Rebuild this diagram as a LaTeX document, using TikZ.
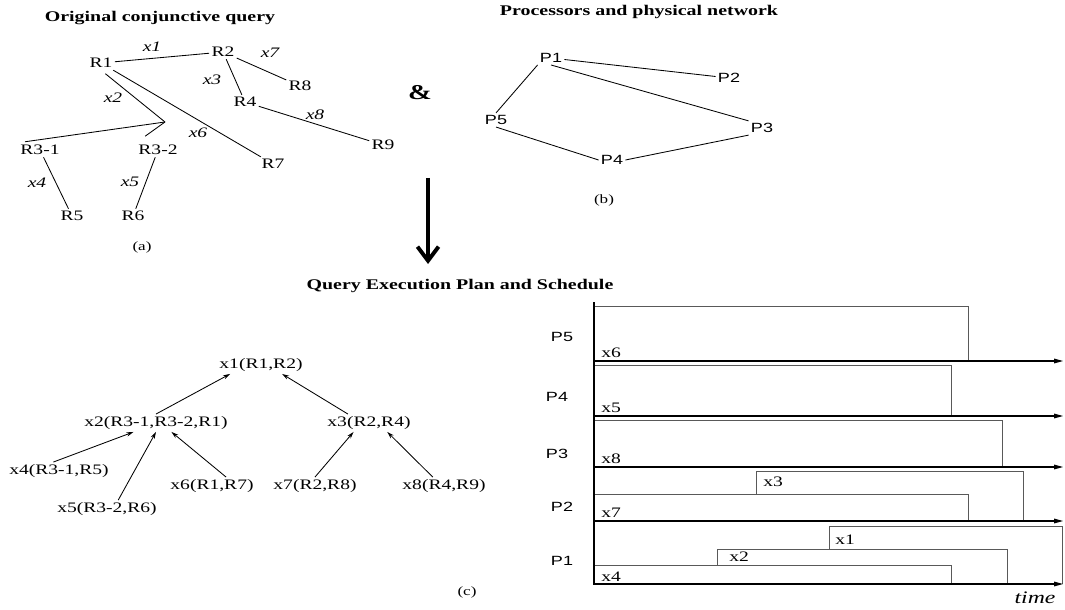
\documentclass[tikz,border=0pt]{standalone}
\usepackage{fontspec}
\setmainfont[FakeStretch=1.35]{Liberation Serif}
\setsansfont[FakeStretch=1.35]{Liberation Sans}
\usetikzlibrary{arrows.meta, positioning}

\begin{document}
\begin{tikzpicture}[x=0.025cm, y=-0.025cm]
    \tikzstyle{heading} = [font=\fontsize{10.5}{12}\selectfont\bfseries, inner sep=0pt]
    \tikzstyle{rel} = [font=\fontsize{10.3}{12}\selectfont, inner sep=1.5pt]
    \tikzstyle{var} = [font=\fontsize{10.3}{12}\selectfont\itshape, inner sep=0pt]
    \tikzstyle{proc} = [font=\fontsize{9.5}{11}\selectfont\sffamily, inner sep=1.5pt]
    \tikzstyle{plan} = [font=\fontsize{10.3}{12}\selectfont, inner sep=1.5pt]
    \tikzstyle{job} = [font=\fontsize{10.3}{12}\selectfont, inner sep=0pt, anchor=west]
    \tikzstyle{sub} = [font=\fontsize{9}{10}\selectfont, inner sep=0pt]
    \tikzstyle{link} = [line width=0.6pt]
    \tikzstyle{arrow} = [line width=0.6pt, -{Stealth[length=5pt,width=3pt]}]
    \tikzstyle{slot} = [line width=0.6pt, draw=black!65]
    \tikzstyle{timeline} = [line width=1.4pt, -{Triangle[length=7pt,width=3pt]}]

    \useasboundingbox (0,0) rectangle (1065,610);

    \node [heading] (ta) at (160,18) {Original conjunctive query};
    \node [rel] (r1) at (101,63) {R1};
    \node [rel] (r2) at (223,52) {R2};
    \node [rel] (r8) at (300,86) {R8};
    \node [rel] (r4) at (245,102) {R4};
    \node [rel] (r9) at (383,145) {R9};
    \node [rel] (r7) at (273,164) {R7};
    \node [rel] (r31) at (40,150) {R3-1};
    \node [rel] (r32) at (158,150) {R3-2};
    \node [rel] (r5) at (72,216) {R5};
    \node [rel] (r6) at (133,216) {R6};
    \coordinate (j) at (165,122);

    \node [var] (v1) at (152,47) {x1};
    \node [var] (v7) at (270,53) {x7};
    \node [var] (v3) at (212,80) {x3};
    \node [var] (v8) at (315,115) {x8};
    \node [var] (v6) at (198,133) {x6};
    \node [var] (v2) at (113,98) {x2};
    \node [var] (v4) at (37,183) {x4};
    \node [var] (v5) at (130,182) {x5};
    \node [sub] (ca) at (142,247) {(a)};

    \draw [link] (r1) -- (r2);
    \draw [link] (r2) -- (r8);
    \draw [link] (r2) -- (r4);
    \draw [link] (r4) -- (r9);
    \draw [link] (r1) -- (r7);
    \draw [link, shorten <=4pt] (r1.south) -- (j);
    \draw [link, shorten >=5pt] (j) -- (r31.north west);
    \draw [link, shorten >=8pt] (j) -- (r32.north west);
    \draw [link] (r31) -- (r5);
    \draw [link] (r32) -- (r6);

    \node [font=\fontsize{15}{18}\selectfont\bfseries] (amp) at (420,93) {\&};
    \coordinate (down1) at (428,178);
    \coordinate (down2) at (428,264);
    \draw [line width=2.8pt, -{Straight Barb[length=10pt,width=15pt]}] (down1) -- (down2);

    \node [heading] (tb) at (639,12) {Processors and physical network};
    \node [proc] (p1) at (551,58) {P1};
    \node [proc] (p2) at (729,78) {P2};
    \node [proc] (p5) at (496,120) {P5};
    \node [proc] (p3) at (762,128) {P3};
    \node [proc] (p4) at (612,160) {P4};
    \node [sub] (cb) at (604,200) {(b)};

    \draw [link] (p1) -- (p2);
    \draw [link] (p1.south) -- (p3.north west);
    \draw [link] (p1.south west) -- (p5.north);
    \draw [link] (p5.south) -- (p4.west);
    \draw [link] (p4.east) -- (p3.south west);

    \node [heading] (tc) at (460,286) {Query Execution Plan and Schedule};
    \node [plan] (q1) at (261,365) {x1(R1,R2)};
    \node [plan] (q2) at (156,423) {x2(R3-1,R3-2,R1)};
    \node [plan] (q3) at (369,423) {x3(R2,R4)};
    \node [plan] (q4) at (59,471) {x4(R3-1,R5)};
    \node [plan] (q5) at (107,509) {x5(R3-2,R6)};
    \node [plan] (q6) at (212,486) {x6(R1,R7)};
    \node [plan] (q7) at (315,486) {x7(R2,R8)};
    \node [plan] (q8) at (444,486) {x8(R4,R9)};
    \node [sub] (cc) at (467,592) {(c)};

    \draw [arrow] (q2.north) -- ([xshift=-22pt]q1.south);
    \draw [arrow] ([xshift=-15pt]q3.north) -- ([xshift=15pt]q1.south);
    \draw [arrow] ([xshift=-4pt]q4.north) -- ([xshift=-16pt]q2.south);
    \draw [arrow] ([xshift=8pt]q5.north) -- (q2.south);
    \draw [arrow] ([xshift=10pt]q6.north) -- ([xshift=11pt]q2.south);
    \draw [arrow] (q7.north) -- ([xshift=-11pt]q3.south);
    \draw [arrow] ([xshift=-8pt]q8.north) -- ([xshift=13pt]q3.south);

    \node [proc] (lp5) at (562,337) {P5};
    \node [proc] (lp4) at (557,397) {P4};
    \node [proc] (lp3) at (557,454) {P3};
    \node [proc] (lp2) at (562,507) {P2};
    \node [proc] (lp1) at (562,561) {P1};

    \draw [slot] (594,306) -| (968,361);
    \draw [slot] (594,365) -| (951,416);
    \draw [slot] (594,420) -| (1002,467);
    \draw [slot] (594,494) -| (968,521);
    \draw [slot] (756,494) |- (1023,471) -- (1023,521);
    \draw [slot] (594,565) -| (951,584);
    \draw [slot] (717,565) |- (1007,549) -- (1007,584);
    \draw [slot] (829,549) |- (1062,526) -- (1062,584);

    \node [job] (j6) at (601,353) {x6};
    \node [job] (j5) at (601,408) {x5};
    \node [job] (j8) at (601,459) {x8};
    \node [job] (j7) at (601,513) {x7};
    \node [job] (j3) at (763,482) {x3};
    \node [job] (j4) at (601,577) {x4};
    \node [job] (j2) at (729,557) {x2};
    \node [job] (j1) at (835,540) {x1};

    \draw [line width=1.4pt] (594,302) -- (594,585);
    \draw [timeline] (594,361) -- (1064,361);
    \draw [timeline] (594,416) -- (1064,416);
    \draw [timeline] (594,467) -- (1064,467);
    \draw [timeline] (594,521) -- (1064,521);
    \draw [timeline] (594,584) -- (1064,584);
    \node [font=\fontsize{12.5}{14}\selectfont\itshape, inner sep=0pt] (time) at (1035,598) {time};
\end{tikzpicture}
\end{document}
